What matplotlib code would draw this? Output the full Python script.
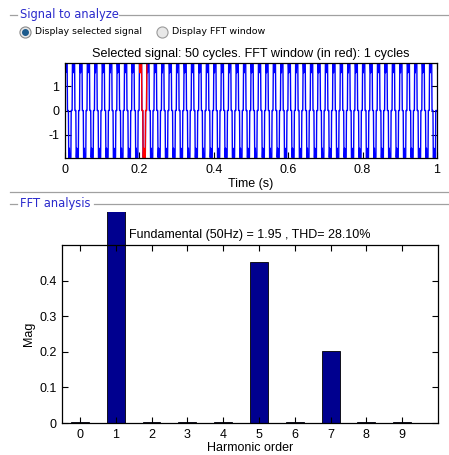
import numpy as np
import matplotlib
matplotlib.use("Agg")
import matplotlib.pyplot as plt
from matplotlib.lines import Line2D
from matplotlib.patches import Rectangle

# ------------------------------
# Signal (one cycle of the stepped wave, 15 deg per step)
# ------------------------------
CYCLE_LEVELS = [1.93, 1.93, 1.55, 1.93, 1.93, 1.93, 1.93, 1.93,
                0.0, 0.0, 0.0, 0.0, -1.93, -1.93, -1.55, -1.93,
                -1.93, -1.93, -1.93, -1.93, 0.0, 0.0, 0.0, 0.0]
N_CYCLES = 50
F0 = 50.0
FFT_START = 0.2
FFT_CYCLES = 1

# ------------------------------
# FFT result
# ------------------------------
HARMONICS = [0, 1, 2, 3, 4, 5, 6, 7, 8, 9]
MAGS = [0.002, 1.95, 0.004, 0.002, 0.002, 0.453, 0.002, 0.202, 0.002, 0.002]

TITLE_TOP = "Selected signal: 50 cycles. FFT window (in red): 1 cycles"
TITLE_BOT = "Fundamental (50Hz) = 1.95 , THD= 28.10%"

plt.rcParams['font.family'] = ['Liberation Sans', 'DejaVu Sans']
plt.rcParams['axes.unicode_minus'] = False

W, H = 449, 455
fig = plt.figure(figsize=(W / 100, H / 100), dpi=100)
fig.patch.set_facecolor("white")


def fx(px):
    return px / W


def fy(py):
    return 1 - py / H


GRAY = "#a0a0a0"
BLUE_TXT = "#2a2acc"


def group_title(text, y, x_text_end):
    fig.add_artist(Line2D([fx(10), fx(17)], [fy(y), fy(y)], color=GRAY, lw=0.9))
    fig.text(fx(19.5), fy(y), text, color=BLUE_TXT, fontsize=8.3,
             family=['DejaVu Sans'], va="center", ha="left")
    fig.add_artist(Line2D([fx(x_text_end), fx(449)], [fy(y), fy(y)], color=GRAY, lw=0.9))


group_title("Signal to analyze", 14.5, 119)
fig.add_artist(Line2D([fx(10), fx(448)], [fy(192), fy(192)], color=GRAY, lw=0.9))
group_title("FFT analysis", 204, 94)

# radio buttons
fig.add_artist(Line2D([fx(25)], [fy(32)], marker="o", ms=8, mfc="#e8e8e8", mec="#8a8a8a", mew=0.8))
fig.add_artist(Line2D([fx(25)], [fy(32)], marker="o", ms=4, mfc="#1c5a8c", mec="#1c5a8c"))
fig.text(fx(35), fy(32), "Display selected signal", fontsize=6.7, family=['DejaVu Sans'], va="center")
fig.add_artist(Line2D([fx(162)], [fy(32)], marker="o", ms=8, mfc="#e8e8e8", mec="#9a9a9a", mew=0.8))
fig.text(fx(172), fy(32), "Display FFT window", fontsize=6.8, family=['DejaVu Sans'], va="center")


def matlab_axes(ax):
    for s in ax.spines.values():
        s.set_linewidth(0.9)
    ax.tick_params(direction="in", top=True, right=True, length=4, width=0.8,
                   labelsize=9, pad=4)


# ------------------------------
# Top: signal
# ------------------------------
n_steps = len(CYCLE_LEVELS)
sig = np.tile(CYCLE_LEVELS, N_CYCLES)
t = np.arange(len(sig)) / (n_steps * F0)

ax1 = fig.add_axes([fx(65), fy(158), fx(372), 95 / H])
ax1.plot(t, sig, color="#0000ff", lw=1.0)
mask = (t >= FFT_START - 1e-9) & (t <= FFT_START + FFT_CYCLES / F0 + 1e-9)
ax1.plot(t[mask], sig[mask], color="#ff0000", lw=1.0)
ax1.set_xlim(0, 1)
ax1.set_ylim(min(sig) - 0.02, max(sig) + 0.02)
ax1.set_xticks([0, 0.2, 0.4, 0.6, 0.8, 1])
ax1.set_xticklabels(["0", "0.2", "0.4", "0.6", "0.8", "1"])
ax1.set_yticks([-1, 0, 1])
ax1.set_title(TITLE_TOP, fontsize=9.1, pad=4)
ax1.set_xlabel("Time (s)", fontsize=9, labelpad=2)
matlab_axes(ax1)

# ------------------------------
# Bottom: FFT bars
# ------------------------------
ax2 = fig.add_axes([fx(62), fy(423), fx(376), 178 / H])
bars = ax2.bar(HARMONICS, MAGS, width=0.5, color="#00008f", edgecolor="black", lw=0.6)
clip = Rectangle((0, 0), 1, fy(212), transform=fig.transFigure, visible=False)
fig.add_artist(clip)
for b in bars:
    b.set_clip_path(clip)
ax2.set_xlim(-0.5, 10)
ax2.set_ylim(0, 0.5)
ax2.set_xticks(HARMONICS)
ax2.set_yticks([0, 0.1, 0.2, 0.3, 0.4])
ax2.set_yticklabels(["0", "0.1", "0.2", "0.3", "0.4"])
ax2.set_title(TITLE_BOT, fontsize=9.0, pad=5)
ax2.set_xlabel("Harmonic order", fontsize=9, labelpad=1)
ax2.set_ylabel("Mag", fontsize=9, labelpad=3)
matlab_axes(ax2)

fig.savefig("out.png", dpi=100, facecolor="white")
